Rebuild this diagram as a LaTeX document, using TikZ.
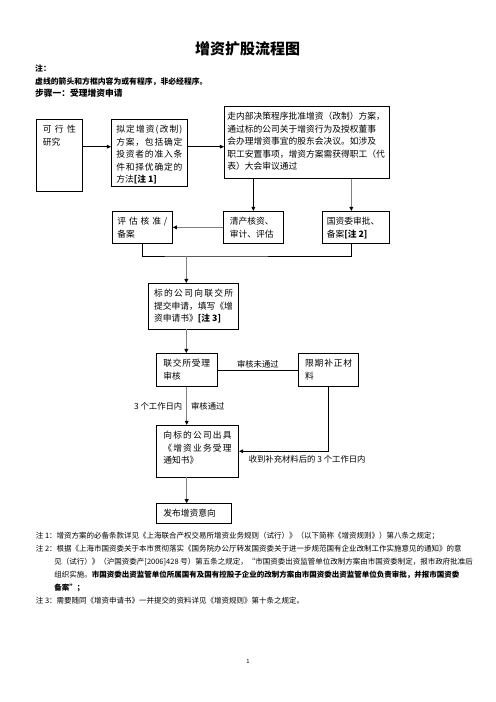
\documentclass[tikz,border=0pt]{standalone}
\usepackage{fontspec}
\setmainfont{Noto Sans CJK SC}
\usepackage{tikz}
\usetikzlibrary{arrows.meta, positioning, calc}

% one pixel of the page
\newlength{\pxl}\setlength{\pxl}{1.2pt}
% box text: width, height, side pad, lines
\newcommand{\cell}[4]{\hspace*{#3\pxl}\parbox[c][#2\pxl][t]{\dimexpr#1\pxl-#3\pxl-#3\pxl\relax}{\rule{0pt}{13.3\pxl}#4}\hspace*{#3\pxl}}
% spread the characters of one line over the box
\makeatletter
\def\spreadln#1{\spr@a#1\@nil}
\def\spr@a#1#2\@nil{#1\ifx\relax#2\relax\else\hfill\spr@a#2\@nil\fi}
\makeatother

\begin{document}
\begin{tikzpicture}[x=1.2pt, y=-1.2pt,
  stepbox/.style={draw, line width=0.9pt, inner sep=0pt, anchor=north west,
    font=\fontsize{10.5pt}{15pt}\selectfont},
  flow/.style={line width=0.8pt, -{Triangle[length=5pt,width=4.5pt]}},
  gflow/.style={draw=black!50, line width=1.6pt, -{Triangle[length=5pt,width=4.5pt,color=black]}},
  lbl/.style={font=\fontsize{10pt}{12pt}\selectfont, inner sep=1.5pt}]
  \useasboundingbox (0,0) rectangle (496,702);

  % heading
  \node[anchor=base, font=\fontsize{18pt}{20pt}\selectfont\bfseries] (title) at (247.5,54) {增资扩股流程图};
  \node[anchor=base west, inner sep=0pt, font=\fontsize{9.4pt}{11pt}\selectfont\bfseries] (note) at (35,71.3) {注：};
  \node[anchor=base west, inner sep=0pt, font=\fontsize{9.4pt}{11pt}\selectfont\bfseries] (dashnote) at (35,84.7) {虚线的箭头和方框内容为或有程序，非必经程序。};
  \node[anchor=base west, inner sep=0pt, font=\fontsize{10.5pt}{12pt}\selectfont\bfseries] (stepone) at (35,96.6) {步骤一：受理增资申请};

  % boxes
  \node[stepbox] (feas) at (36,119) {\cell{46}{72}{6.5}{\spreadln{可行性}\\研究}};
  \node[stepbox] (plan) at (111,119) {\cell{76}{67}{5}{\spreadln{拟定增资(改制)}\\\spreadln{方案，包括确定}\\\spreadln{投资者的准入条}\\\spreadln{件和择优确定的}\\方法\textbf{[注 1]}}};
  \node[stepbox] (decide) at (224,106) {\cell{165}{72}{3}{走内部决策程序批准增资（改制）方案，\\通过标的公司关于增资行为及授权董事\\会办理增资事宜的股东会决议。如涉及\\职工安置事项，增资方案需获得职工（代\\表）大会审议通过}};
  \node[stepbox] (eval) at (112,211) {\cell{60}{32}{5}{\spreadln{评估核准/}\\备案}};
  \node[stepbox] (clear) at (223,211) {\cell{60}{32}{6.5}{清产核资、\\审计、评估}};
  \node[stepbox] (sasac) at (321.5,211) {\cell{67.5}{32}{5}{国资委审批、\\备案\textbf{[注 2]}}};
  \node[stepbox] (apply) at (148.3,283) {\cell{90}{45.5}{5.5}{\spreadln{标的公司向联交所}\\提交申请，填写《增\\资申请书》\textbf{[注 3]}}};
  \node[stepbox] (accept) at (156,353) {\cell{60.7}{33}{7}{\spreadln{联交所受理}\\审核}};
  \node[stepbox] (fix) at (298.3,353) {\cell{60}{33}{6.5}{\spreadln{限期补正材}\\料}};
  \node[stepbox] (notice) at (156,425) {\cell{82.3}{51.7}{7}{\spreadln{向标的公司出具}\\\spreadln{《增资业务受理}\\通知书》}};
  \node[stepbox] (publish) at (156,503.3) {\cell{75}{19.4}{7}{发布增资意向}};

  % connectors
  \coordinate (row1) at (0,146.7);
  \coordinate (join) at (186.3,256);
  \coordinate (sasacx) at ($(sasac.north)+(-4.3,0)$);
  \draw[flow] (feas.east |- row1) -- (plan.west |- row1);
  \draw[flow] (plan.east |- row1) -- (decide.west |- row1);
  \draw[flow] (decide.south -| clear.north) -- (clear.north);
  \draw[gflow] (decide.south -| sasacx) -- (sasacx);
  \draw[gflow] (clear.west) -- (eval.east);
  \draw[line width=0.8pt] (eval.south) |- (join) -| (sasac.south -| sasacx);
  \draw[gflow] (join) -- (apply.north -| join);
  \draw[gflow] (apply.south -| join) -- (accept.north -| join);
  \draw[line width=0.8pt] (accept.east) -- node[lbl, above] (nopass) {审核未通过} (fix.west);
  \draw[gflow] (accept.south) -- node[lbl, left=3pt] (days) {3 个工作日内}
    node[lbl, right=3pt] (pass) {审核通过} (notice.north -| accept.south);
  \draw[flow] (fix.south) |- node[lbl, below=3pt, pos=0.62] (resub) {收到补充材料后的 3 个工作日内} (notice.east);
  \draw[gflow] (notice.south -| accept.south) -- (publish.north -| accept.south);

  % notes
  \begin{scope}[every node/.style={anchor=base west, inner sep=0pt, font=\fontsize{9pt}{11pt}\selectfont}]
    \node (n1) at (35.7,538) {注 1：增资方案的必备条款详见《上海联合产权交易所增资业务规则（试行）》（以下简称《增资规则》）第八条之规定；};
    \node (n2) at (35.7,551) {注 2：根据《上海市国资委关于本市贯彻落实《国务院办公厅转发国资委关于进一步规范国有企业改制工作实施意见的通知》的意};
    \node (n2b) at (54.3,564) {见（试行）》（沪国资委产[2006]428 号）第五条之规定，“市国资委出资监管单位改制方案由市国资委制定，报市政府批准后};
    \node (n2c) at (54.3,577) {组织实施。\textbf{市国资委出资监管单位所属国有及国有控股子企业的改制方案由市国资委出资监管单位负责审批，并报市国资委}};
    \node (n2d) at (54.3,590) {\textbf{备案”；}};
    \node (n3) at (35.7,603) {注 3：需要随同《增资申请书》一并提交的资料详见《增资规则》第十条之规定。};
  \end{scope}
  \node[anchor=base, inner sep=0pt, font=\fontsize{7pt}{8pt}\selectfont] (page) at (248,663) {1};
\end{tikzpicture}
\end{document}
